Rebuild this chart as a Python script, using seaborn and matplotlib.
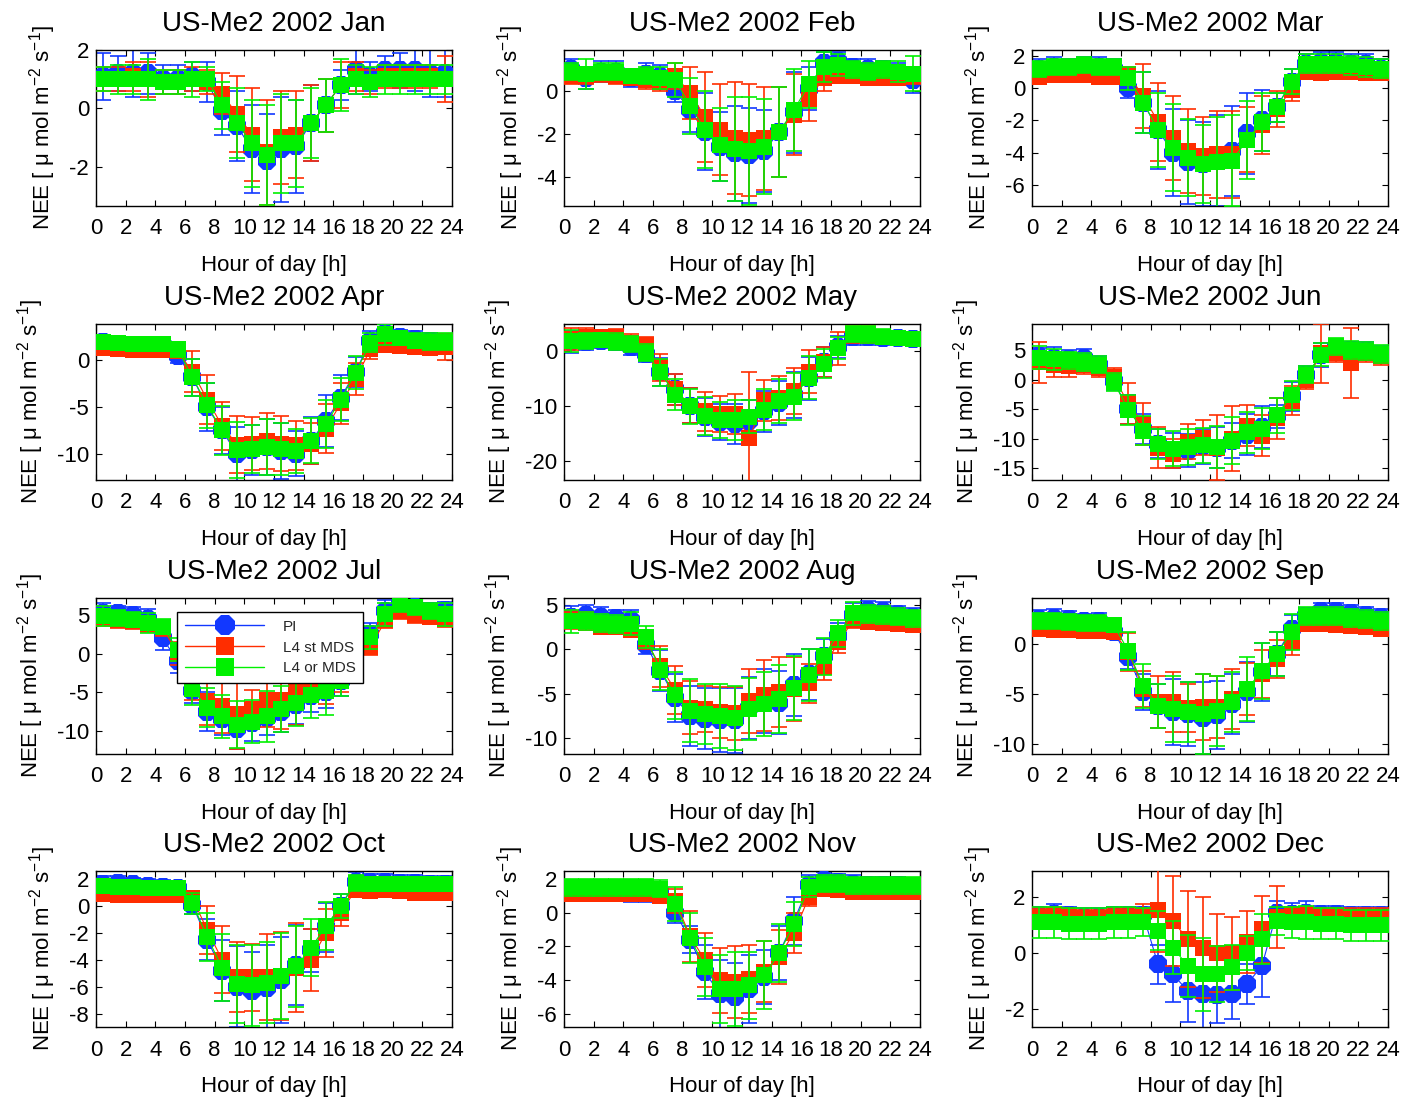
import numpy as np
import pandas as pd
import matplotlib
matplotlib.use("Agg")
import matplotlib.pyplot as plt
from matplotlib.lines import Line2D
import seaborn as sns

# ---------------- data ----------------
HOURS = [0.5, 1.5, 2.5, 3.5, 4.5, 5.5, 6.5, 7.5, 8.5, 9.5, 10.5, 11.5,
         12.5, 13.5, 14.5, 15.5, 16.5, 17.5, 18.5, 19.5, 20.5, 21.5, 22.5, 23.5]
XTICKS = [0, 2, 4, 6, 8, 10, 12, 14, 16, 18, 20, 22, 24]
MONTHS = ["Jan", "Feb", "Mar", "Apr", "May", "Jun",
          "Jul", "Aug", "Sep", "Oct", "Nov", "Dec"]
SERIES = ["PI", "L4 st MDS", "L4 or MDS"]

PI_JAN = [1.1,1.2,1.2,1.2,1.0,1.0,1.1,0.9,-0.1,-0.6,-1.4,-1.8,-1.4,-1.3,-0.5,0.1,0.8,1.3,1.1,1.3,1.3,1.3,1.2,1.2]
ST_JAN = [1.0,1.0,1.1,1.0,0.9,0.9,1.0,0.9,0.5,-0.2,-0.9,-1.5,-1.0,-0.9,-0.5,0.1,0.8,1.1,0.9,1.1,1.1,1.1,1.1,1.0]
OR_JAN = [1.0,1.0,1.0,1.0,0.9,0.9,1.0,1.0,0.1,-0.5,-1.2,-1.6,-1.2,-1.2,-0.5,0.1,0.8,1.0,0.9,1.0,1.0,1.0,1.0,1.0]
PI_JAN_E = [0.8,0.6,0.8,0.7,0.5,0.5,0.5,0.7,0.8,1.2,1.5,1.6,1.8,1.6,1.3,0.9,0.5,0.8,0.5,0.5,0.6,0.7,0.8,0.8]
ST_JAN_E = [0.4,0.4,0.5,0.6,0.4,0.4,0.4,0.4,0.7,1.3,1.6,1.8,1.6,1.5,1.3,0.9,0.8,0.5,0.4,0.4,0.4,0.4,0.4,0.8]
OR_JAN_E = [0.4,0.5,0.5,0.7,0.4,0.4,0.6,0.4,0.8,1.2,1.5,1.7,1.7,1.5,1.2,0.9,0.9,0.5,0.5,0.5,0.5,0.5,0.5,0.5]

PI_FEB = [1.0,0.6,0.9,0.9,0.6,0.8,0.7,0.0,-0.9,-1.9,-2.6,-2.9,-3.0,-2.8,-1.9,-1.0,0.1,1.3,1.4,1.1,1.0,1.0,0.8,0.5]
ST_FEB = [0.7,0.7,0.8,0.7,0.6,0.5,0.4,0.7,-0.1,-1.2,-1.8,-2.2,-2.3,-2.2,-1.9,-1.1,-0.4,0.6,0.7,0.7,0.6,0.6,0.6,0.7]
OR_FEB = [0.9,0.8,0.9,0.9,0.7,0.7,0.6,0.5,-0.7,-1.8,-2.5,-2.7,-2.8,-2.6,-1.9,-0.9,0.3,1.1,1.2,1.0,0.9,1.0,0.9,0.8]
PI_FEB_E = [0.5,0.5,0.5,0.5,0.4,0.5,0.5,0.5,1.0,1.8,1.6,2.2,2.2,1.9,2.1,1.9,1.0,0.5,0.4,0.4,0.5,0.4,0.5,0.6]
ST_FEB_E = [0.4,0.4,0.4,0.4,0.3,0.4,0.4,0.6,1.2,2.1,2.1,2.6,2.6,2.4,2.1,1.9,1.0,0.6,0.3,0.3,0.3,0.3,0.3,0.4]
OR_FEB_E = [0.4,0.7,0.4,0.4,0.3,0.4,0.5,0.8,1.3,1.8,1.7,2.4,2.5,2.2,2.1,1.9,1.1,0.7,0.5,0.4,0.4,0.4,0.5,0.8]

PI_MAR = [1.2,1.3,1.2,1.3,1.3,1.2,0.0,-0.9,-2.6,-4.0,-4.6,-4.7,-4.5,-3.9,-2.8,-2.0,-1.2,0.4,1.5,1.6,1.6,1.5,1.5,1.2]
ST_MAR = [0.7,0.8,0.8,0.8,0.7,0.7,0.8,-0.5,-2.1,-3.1,-3.9,-4.2,-4.1,-4.1,-3.2,-2.3,-1.3,-0.1,1.0,0.9,1.0,1.0,0.9,0.9]
OR_MAR = [1.2,1.3,1.3,1.4,1.3,1.3,0.6,-0.9,-2.6,-3.7,-4.3,-4.7,-4.6,-4.5,-3.2,-2.1,-1.2,0.4,1.5,1.5,1.5,1.4,1.3,1.2]
PI_MAR_E = [0.6,0.6,0.6,0.6,0.6,0.6,0.6,1.9,2.4,2.7,2.6,2.6,2.8,2.8,2.5,1.9,0.9,0.8,0.6,0.6,0.6,0.6,0.6,0.6]
ST_MAR_E = [0.3,0.3,0.3,0.3,0.3,0.3,0.5,2.0,2.4,2.6,2.6,2.4,2.7,2.7,2.0,1.8,1.1,0.7,0.4,0.4,0.4,0.4,0.4,0.4]
OR_MAR_E = [0.5,0.5,0.5,0.5,0.5,0.5,0.7,1.9,2.3,2.7,2.4,2.4,2.8,2.8,2.4,1.8,0.9,0.8,0.6,0.6,0.6,0.6,0.6,0.6]

PI_APR = [2.0,1.8,1.6,1.6,1.6,0.5,-1.8,-5.0,-7.5,-10.0,-9.6,-9.3,-9.7,-10.0,-8.6,-6.5,-4.0,-1.2,2.1,2.9,2.5,2.3,2.1,2.0]
ST_APR = [1.3,1.2,1.1,1.1,1.1,1.0,-1.2,-4.2,-7.0,-9.0,-8.9,-8.6,-8.9,-9.1,-8.9,-7.3,-4.6,-2.0,1.2,1.7,1.5,1.4,1.3,1.4]
OR_APR = [2.0,1.9,1.8,1.8,1.8,1.2,-1.8,-4.8,-7.5,-9.6,-9.5,-9.3,-9.5,-9.7,-8.6,-6.8,-4.2,-1.3,1.9,2.8,2.4,2.1,2.0,2.0]
PI_APR_E = [0.6,0.6,0.6,0.6,0.8,0.8,2.0,2.6,2.5,2.9,2.7,3.0,3.0,2.4,2.5,2.8,2.4,1.6,1.0,1.3,0.8,0.8,0.8,0.8]
ST_APR_E = [0.4,0.4,0.4,0.4,0.4,0.6,2.2,2.6,2.6,3.0,2.8,3.0,2.9,2.6,2.2,2.6,2.2,1.7,1.1,0.7,0.5,0.5,0.5,1.4]
OR_APR_E = [0.6,0.6,0.6,0.6,0.6,0.8,2.0,2.4,2.6,3.0,2.6,3.0,2.8,2.4,2.4,2.6,2.3,1.8,1.0,1.1,0.8,0.8,0.9,0.9]

PI_MAY = [1.6,1.7,1.8,1.6,0.8,-0.5,-3.8,-7.0,-10.0,-12.0,-13.0,-13.3,-12.8,-11.0,-9.5,-8.0,-5.0,-2.0,0.8,2.5,2.6,2.4,2.3,2.1]
ST_MAY = [2.2,2.6,2.6,2.5,1.5,1.0,-3.0,-7.0,-10.0,-11.0,-11.5,-11.5,-15.8,-9.0,-8.5,-7.3,-3.8,-2.0,0.5,3.0,3.0,2.5,2.4,2.2]
OR_MAY = [1.8,1.8,1.9,1.7,1.3,-0.3,-3.9,-8.0,-10.1,-11.8,-12.6,-12.6,-12.0,-10.7,-9.2,-8.3,-4.9,-2.3,0.6,3.1,3.0,2.6,2.4,2.2]
PI_MAY_E = [2.0,1.5,1.2,1.5,1.5,1.5,2.5,2.8,3.2,3.5,3.3,3.7,3.8,3.7,4.0,4.2,3.9,2.7,2.0,1.5,1.5,1.3,1.3,1.2]
ST_MAY_E = [2.0,1.5,1.2,1.5,1.5,1.5,2.5,2.8,3.2,3.5,3.3,3.7,12.0,3.7,4.0,4.2,3.9,2.7,3.0,1.5,1.5,1.3,1.3,1.2]
OR_MAY_E = [2.0,1.5,1.2,1.5,1.5,1.5,2.5,2.8,3.2,3.5,3.3,3.7,3.0,3.7,4.0,4.2,3.9,2.7,2.0,1.5,1.5,1.3,1.3,1.2]

PI_JUN = [4.0,3.8,3.6,3.8,2.5,-0.2,-5.0,-8.3,-10.8,-12.0,-12.0,-11.3,-11.5,-10.3,-9.3,-8.0,-6.2,-2.8,0.8,4.2,5.5,5.0,4.9,4.3]
ST_JUN = [3.0,2.5,2.3,2.5,2.0,0.5,-4.0,-7.5,-11.5,-12.5,-10.5,-9.8,-11.5,-10.0,-7.8,-9.5,-6.5,-3.5,0.0,4.5,4.5,2.9,4.5,4.0]
OR_JUN = [3.8,3.5,3.3,3.1,2.6,-0.3,-5.1,-8.6,-10.9,-11.7,-11.4,-11.1,-11.4,-10.3,-8.9,-8.3,-6.0,-2.6,0.9,4.3,5.7,5.1,4.9,4.4]
PI_JUN_E = [1.5,1.8,1.5,1.5,1.5,1.5,2.5,2.5,2.5,3.0,2.8,3.0,3.5,3.0,3.5,3.5,2.0,2.5,1.5,2.0,1.5,1.5,1.5,1.5]
ST_JUN_E = [3.5,2.0,1.8,1.5,1.5,1.5,3.5,3.5,3.5,2.5,3.0,3.0,5.5,5.5,3.5,3.5,3.5,2.5,1.5,5.0,1.5,6.0,1.5,1.5]
OR_JUN_E = [2.0,1.8,1.5,1.5,1.5,1.5,2.5,2.5,2.5,3.0,3.0,3.0,3.5,4.0,3.5,3.5,3.0,2.5,1.5,2.0,1.5,1.5,1.5,1.5]

PI_JUL = [5.2,5.2,5.0,4.5,2.0,-1.0,-4.9,-7.5,-8.5,-9.8,-9.0,-8.3,-7.6,-6.6,-5.5,-5.0,-3.5,0.5,2.5,5.5,6.4,6.0,5.5,5.7]
ST_JUL = [4.6,4.3,4.2,3.8,3.3,0.0,-4.0,-6.2,-6.8,-7.8,-7.2,-6.0,-6.0,-4.8,-4.3,-4.5,-3.0,0.5,0.8,4.3,5.5,5.0,4.8,4.5]
OR_JUL = [4.9,4.6,4.4,4.0,3.5,0.5,-4.6,-7.0,-8.1,-9.2,-8.8,-8.1,-7.2,-6.4,-5.3,-4.9,-3.5,0.0,2.1,5.1,6.4,6.0,5.5,5.1]
PI_JUL_E = [1.3,1.0,1.0,1.3,1.5,1.5,1.5,2.5,2.0,2.5,2.3,2.3,2.5,2.5,2.0,2.0,2.0,2.0,1.5,1.5,1.0,1.0,1.0,1.0]
ST_JUL_E = [1.0,1.0,1.0,1.0,1.0,1.5,2.0,3.0,3.5,4.5,2.5,3.5,3.8,4.5,2.0,2.0,2.0,2.0,1.0,1.0,1.0,1.0,1.0,1.0]
OR_JUL_E = [1.3,1.0,1.0,1.3,1.0,1.5,2.0,2.5,2.8,3.0,2.8,3.3,3.0,3.0,3.0,3.0,2.0,2.0,1.5,1.5,1.0,1.0,1.0,1.5]

PI_AUG = [3.7,3.9,3.6,3.5,3.3,0.5,-2.4,-5.5,-7.5,-7.8,-8.0,-8.0,-6.6,-5.8,-6.0,-4.0,-2.8,-0.8,1.5,3.9,4.4,4.3,4.0,3.7]
ST_AUG = [3.3,3.2,2.5,2.5,2.2,1.0,-1.9,-4.6,-6.6,-6.7,-7.1,-7.2,-5.8,-5.2,-4.8,-4.5,-3.8,-2.0,0.8,3.3,3.1,3.0,2.9,2.7]
OR_AUG = [3.2,3.2,3.0,2.9,2.9,1.4,-2.3,-5.2,-6.9,-7.3,-7.5,-7.7,-6.7,-6.2,-5.6,-4.4,-2.9,-0.8,1.8,4.1,4.0,3.9,3.7,3.5]
PI_AUG_E = [1.2,1.1,1.2,1.0,1.1,1.0,2.3,2.7,3.4,3.4,3.6,3.7,3.5,3.6,3.6,3.5,2.9,2.0,1.5,1.3,1.1,1.1,0.9,1.0]
ST_AUG_E = [1.0,1.0,0.8,0.8,0.8,1.0,2.3,2.7,3.0,2.6,2.9,3.0,3.6,4.0,3.9,3.6,2.2,1.5,1.2,0.9,0.5,0.5,0.5,0.5]
OR_AUG_E = [1.3,1.0,1.0,1.0,1.3,1.2,2.3,2.6,3.6,3.4,3.6,3.6,3.5,3.6,3.8,3.6,2.9,2.1,1.5,1.3,1.0,1.0,1.0,1.0]

PI_SEP = [2.5,2.6,2.5,2.3,2.3,1.2,-1.3,-4.8,-6.2,-6.8,-7.0,-7.4,-7.1,-6.0,-4.8,-2.8,-1.0,1.5,2.8,3.3,3.3,3.1,2.9,2.7]
ST_SEP = [1.5,1.4,1.4,1.3,1.3,1.2,-0.8,-4.5,-5.8,-5.8,-6.4,-6.3,-6.3,-5.5,-4.5,-3.0,-1.5,0.2,2.0,2.0,1.9,1.8,1.7,1.5]
OR_SEP = [2.3,2.3,2.2,2.1,2.1,1.9,-0.7,-4.2,-6.2,-6.5,-6.8,-7.0,-6.7,-5.8,-4.5,-2.7,-1.0,1.2,2.8,2.8,2.8,2.6,2.5,2.3]
PI_SEP_E = [0.9,0.9,0.8,0.7,0.8,0.6,1.2,1.8,2.2,3.3,3.2,3.6,3.4,3.0,3.0,2.9,2.2,1.4,0.8,0.8,0.8,0.8,0.8,0.8]
ST_SEP_E = [0.5,0.5,0.5,0.5,0.5,0.6,1.9,1.8,2.6,3.0,2.4,3.3,3.1,3.0,2.6,2.4,1.9,1.3,0.5,0.5,0.5,0.5,0.5,0.5]
OR_SEP_E = [0.8,0.8,0.8,0.8,0.8,0.7,1.9,2.2,2.2,3.3,3.0,4.0,3.5,3.0,3.2,2.8,2.2,1.8,0.9,0.9,0.9,0.9,0.9,0.9]

PI_OCT = [1.6,1.7,1.6,1.5,1.4,1.3,0.1,-2.5,-4.8,-6.0,-6.3,-6.1,-5.5,-4.4,-3.3,-1.6,0.0,1.8,1.8,1.8,1.7,1.7,1.6,1.6]
ST_OCT = [0.9,0.8,0.8,0.8,0.8,0.8,0.6,-1.8,-4.0,-5.3,-5.3,-5.3,-5.2,-4.6,-4.0,-2.0,-0.5,1.2,1.1,1.2,1.1,1.0,1.0,1.0]
OR_OCT = [1.45,1.4,1.4,1.3,1.3,1.3,0.2,-2.3,-4.6,-5.8,-5.9,-5.7,-5.2,-4.5,-3.1,-1.5,0.0,1.7,1.6,1.6,1.6,1.6,1.6,1.6]
PI_OCT_E = [0.6,0.5,0.5,0.5,0.5,0.5,0.7,1.5,2.3,3.0,2.9,3.2,3.2,3.0,1.6,1.8,0.9,0.7,0.6,0.6,0.6,0.6,0.6,0.6]
ST_OCT_E = [0.3,0.3,0.3,0.3,0.3,0.3,0.5,1.8,2.5,2.6,2.5,3.2,3.3,3.3,2.3,1.8,1.0,0.5,0.4,0.4,0.4,0.4,0.4,0.4]
OR_OCT_E = [0.5,0.5,0.5,0.5,0.5,0.5,0.8,1.8,2.5,2.9,3.0,3.0,3.2,3.0,2.1,1.8,0.9,0.6,0.5,0.5,0.5,0.5,0.5,0.5]

PI_NOV = [1.3,1.3,1.3,1.3,1.2,1.2,1.2,0.0,-1.6,-3.5,-4.8,-5.0,-4.5,-3.8,-2.4,-0.5,1.6,1.9,1.8,1.7,1.6,1.6,1.6,1.5]
ST_NOV = [1.1,1.1,1.1,1.1,1.1,1.1,1.0,0.7,-1.4,-2.8,-4.0,-4.1,-3.9,-3.5,-2.6,-1.2,0.9,1.4,1.3,1.2,1.2,1.2,1.2,1.2]
OR_NOV = [1.5,1.5,1.5,1.5,1.5,1.5,1.4,0.5,-1.5,-3.2,-4.5,-4.5,-4.3,-3.7,-2.4,-0.7,1.5,1.7,1.7,1.6,1.6,1.6,1.6,1.6]
PI_NOV_E = [0.6,0.6,0.6,0.6,0.6,0.6,0.6,0.6,0.8,1.6,2.0,2.0,2.0,1.6,1.6,1.4,0.6,0.5,0.5,0.5,0.5,0.5,0.5,0.5]
ST_NOV_E = [0.4,0.4,0.4,0.4,0.4,0.4,0.4,0.7,1.5,1.6,1.9,2.1,2.0,1.8,1.6,1.2,0.5,0.4,0.4,0.4,0.4,0.4,0.4,0.4]
OR_NOV_E = [0.5,0.5,0.5,0.5,0.5,0.5,0.5,1.0,1.5,1.7,2.0,2.2,2.0,2.0,1.7,1.3,0.6,0.5,0.5,0.5,0.5,0.5,0.5,0.5]

PI_DEC = [1.35,1.4,1.35,1.3,1.3,1.35,1.35,1.35,-0.4,-0.75,-1.35,-1.45,-1.5,-1.45,-1.1,-0.45,1.45,1.4,1.45,1.4,1.4,1.35,1.35,1.35]
ST_DEC = [1.3,1.35,1.3,1.25,1.25,1.3,1.3,1.35,1.55,1.15,0.5,0.2,0.0,0.0,0.4,0.85,1.3,1.35,1.35,1.3,1.3,1.3,1.3,1.3]
OR_DEC = [1.1,1.1,1.05,1.05,1.05,1.1,1.1,1.1,0.8,0.2,-0.45,-0.75,-0.75,-0.5,0.0,0.5,1.15,1.1,1.1,1.05,1.05,1.0,1.0,1.0]
PI_DEC_E = [0.3,0.35,0.3,0.3,0.3,0.3,0.3,0.3,0.7,1.0,1.1,1.5,1.0,0.9,0.7,1.1,0.4,0.4,0.4,0.3,0.3,0.3,0.3,0.3]
ST_DEC_E = [0.3,0.3,0.3,0.3,0.3,0.3,0.3,0.4,1.5,1.6,1.7,1.8,1.4,1.3,1.1,1.2,1.1,0.3,0.3,0.3,0.3,0.3,0.3,0.3]
OR_DEC_E = [0.55,0.55,0.55,0.55,0.55,0.55,0.55,0.5,0.7,0.95,1.1,1.3,1.0,0.8,0.6,0.9,0.5,0.55,0.6,0.55,0.55,0.55,0.55,0.55]

YLIMS = [(-3.35, 2.0), (-5.35, 1.9), (-7.3, 2.35), (-12.8, 3.9),
         (-23.5, 4.9), (-17.0, 9.5), (-13.0, 7.2), (-11.8, 5.8),
         (-11.0, 4.6), (-9.0, 2.6), (-6.75, 2.45), (-2.63, 2.93)]
YTICKS = [[-2, 0, 2], [-4, -2, 0], [-6, -4, -2, 0, 2], [-10, -5, 0],
          [-20, -10, 0], [-15, -10, -5, 0, 5], [-10, -5, 0, 5], [-10, -5, 0, 5],
          [-10, -5, 0], [-8, -6, -4, -2, 0, 2], [-6, -4, -2, 0, 2], [-2, 0, 2]]

PI_ALL = [PI_JAN, PI_FEB, PI_MAR, PI_APR, PI_MAY, PI_JUN, PI_JUL, PI_AUG, PI_SEP, PI_OCT, PI_NOV, PI_DEC]
ST_ALL = [ST_JAN, ST_FEB, ST_MAR, ST_APR, ST_MAY, ST_JUN, ST_JUL, ST_AUG, ST_SEP, ST_OCT, ST_NOV, ST_DEC]
OR_ALL = [OR_JAN, OR_FEB, OR_MAR, OR_APR, OR_MAY, OR_JUN, OR_JUL, OR_AUG, OR_SEP, OR_OCT, OR_NOV, OR_DEC]
PI_ERR = [PI_JAN_E, PI_FEB_E, PI_MAR_E, PI_APR_E, PI_MAY_E, PI_JUN_E, PI_JUL_E, PI_AUG_E, PI_SEP_E, PI_OCT_E, PI_NOV_E, PI_DEC_E]
ST_ERR = [ST_JAN_E, ST_FEB_E, ST_MAR_E, ST_APR_E, ST_MAY_E, ST_JUN_E, ST_JUL_E, ST_AUG_E, ST_SEP_E, ST_OCT_E, ST_NOV_E, ST_DEC_E]
OR_ERR = [OR_JAN_E, OR_FEB_E, OR_MAR_E, OR_APR_E, OR_MAY_E, OR_JUN_E, OR_JUL_E, OR_AUG_E, OR_SEP_E, OR_OCT_E, OR_NOV_E, OR_DEC_E]

# ---------------- style ----------------
sns.set_theme(style="ticks")
plt.rcParams["font.family"] = ["Liberation Sans", "DejaVu Sans"]
plt.rcParams["mathtext.default"] = "regular"
plt.rcParams["axes.unicode_minus"] = False

BLUE = "#1238ff"
RED = "#ff2d00"
GREEN = "#00f000"
COLORS = [BLUE, RED, GREEN]
MARKERS = ["8", "s", "s"]
SIZES = [13.5, 11.5, 11.5]

fig = plt.figure(figsize=(14.04, 10.98), dpi=100)
W, H = 1404.0, 1098.0
COL_LEFT = [96, 564, 1032]
ROW_TOP = [50, 324, 598, 871]
AX_W, AX_H = 356, 156

for i, month in enumerate(MONTHS):
    r, c = divmod(i, 3)
    ax = fig.add_axes([COL_LEFT[c] / W, 1 - (ROW_TOP[r] + AX_H) / H, AX_W / W, AX_H / H])
    means = [PI_ALL[i], ST_ALL[i], OR_ALL[i]]
    errs = [PI_ERR[i], ST_ERR[i], OR_ERR[i]]
    for k in range(3):
        df = pd.DataFrame({"hour": HOURS, "nee": means[k]})
        ax.errorbar(df["hour"], df["nee"], yerr=errs[k], fmt="none",
                    ecolor=COLORS[k], elinewidth=1.2, capsize=5.5, capthick=1.2,
                    zorder=2 + 2 * k)
        sns.lineplot(data=df, x="hour", y="nee", ax=ax, color=COLORS[k],
                     marker=MARKERS[k], markersize=SIZES[k], markeredgewidth=0,
                     linewidth=0.8, legend=False, zorder=3 + 2 * k)
    ax.set_xlim(0, 24)
    ax.set_ylim(*YLIMS[i])
    ax.set_xticks(XTICKS)
    ax.set_yticks(YTICKS[i])
    ax.tick_params(direction="in", top=True, right=True, length=4,
                   width=0.8, labelsize=16, color="black", labelcolor="black")
    ax.tick_params(axis="x", pad=9)
    ax.tick_params(axis="y", pad=5)
    for sp in ax.spines.values():
        sp.set_color("black")
        sp.set_linewidth(1.0)
    ax.set_title(f"US-Me2 2002 {month}", fontsize=20, pad=14, color="black")
    ax.set_xlabel("Hour of day [h]", fontsize=16, labelpad=11, color="black")
    ax.set_ylabel("NEE [ μ mol m$^{-2}$ s$^{-1}$]", fontsize=16, labelpad=8, color="black")

    if month == "Jul":
        handles = [Line2D([], [], color=COLORS[k], marker=MARKERS[k],
                          markersize=SIZES[k] + 1.5, markeredgewidth=0, linewidth=1)
                   for k in range(3)]
        leg = ax.legend(handles, SERIES, loc="upper left", bbox_to_anchor=(0.228, 0.91),
                        fontsize=11, handlelength=5.2, labelspacing=0.45,
                        frameon=True, fancybox=False, framealpha=1,
                        edgecolor="black", borderpad=0.5, handletextpad=1.2,
                        borderaxespad=0.0)
        leg.get_frame().set_linewidth(1.0)
        leg.set_zorder(20)

fig.savefig("out.png", dpi=100)
